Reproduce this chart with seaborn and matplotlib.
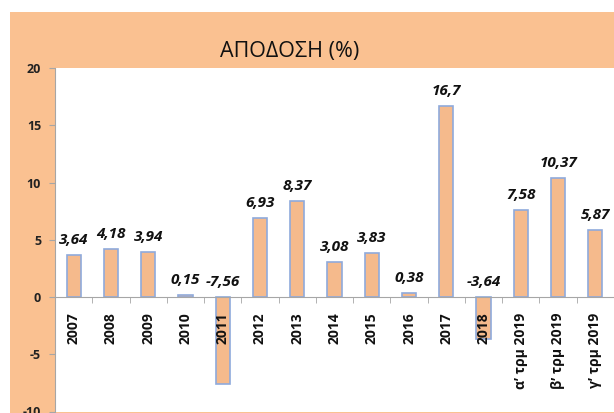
import matplotlib
matplotlib.use('Agg')
import matplotlib.pyplot as plt
import seaborn as sns
import pandas as pd
from matplotlib.patches import Rectangle

# data
periods = ['2007', '2008', '2009', '2010', '2011', '2012', '2013', '2014',
           '2015', '2016', '2017', '2018',
           'α’ τρμ 2019', 'β’ τρμ 2019', 'γ’ τρμ 2019']
returns = [3.64, 4.18, 3.94, 0.15, -7.56, 6.93, 8.37, 3.08,
           3.83, 0.38, 16.7, -3.64, 7.58, 10.37, 5.87]
value_labels = ['3,64', '4,18', '3,94', '0,15', '-7,56', '6,93', '8,37', '3,08',
                '3,83', '0,38', '16,7', '-3,64', '7,58', '10,37', '5,87']
y_ticks = [-10, -5, 0, 5, 10, 15, 20]
title = 'ΑΠΟΔΟΣΗ (%)'

sns.set_style('white')
plt.rcParams['font.family'] = ['Open Sans', 'DejaVu Sans']

df = pd.DataFrame({'period': periods, 'ret': returns})

fig = plt.figure(figsize=(6.14, 4.13), dpi=100)
fig.patch.set_facecolor('white')

# orange chart panel (behind the axes)
panel = Rectangle((10 / 614, 0), 1, (413 - 12) / 413,
                  transform=fig.transFigure, facecolor='#FAC191',
                  edgecolor='none', zorder=-10)
fig.add_artist(panel)
fig.text(290 / 614, (413 - 52) / 413, title, ha='center', va='center',
         fontsize=15.5, color='#111111')

ax = fig.add_axes([55 / 614, 1.5 / 413, (614 - 55) / 614, (411.5 - 68) / 413])
ax.set_zorder(1)
ax.set_facecolor('white')

sns.barplot(data=df, x='period', y='ret', ax=ax, color='#F5BA8C',
            saturation=1, width=0.38, edgecolor='#8FAADC', linewidth=1.2)

ax.set_axisbelow(False)  # tick labels sit on top of the negative bars
ax.set_ylim(-10, 20)
ax.set_xlim(-0.5, len(periods) - 0.5)
ax.set_yticks(y_ticks)
ax.set_yticklabels([str(t) for t in y_ticks], fontsize=9, fontweight='bold',
                   color='#222222')
ax.set_xlabel('')
ax.set_ylabel('')

for s in ['top', 'right']:
    ax.spines[s].set_visible(False)
ax.spines['left'].set_color('#A6A6A6')
ax.spines['bottom'].set_color('#A6A6A6')
ax.spines['bottom'].set_position(('data', 0))

ax.tick_params(axis='y', which='major', direction='out', length=4,
               color='#A6A6A6', left=True, pad=6)
ax.set_xticks(range(len(periods)))
ax.set_xticklabels(periods, rotation=90, fontsize=10, fontweight='bold',
                   color='#111111', va='top')
ax.tick_params(axis='x', which='major', length=0, pad=11)
ax.set_xticks([i + 0.5 for i in range(len(periods) - 1)], minor=True)
ax.tick_params(axis='x', which='minor', direction='out', length=4,
               color='#A6A6A6', bottom=True)

for i, (v, lab) in enumerate(zip(returns, value_labels)):
    ax.text(i, max(v, 0) + 0.7, lab, ha='center', va='bottom', fontsize=11,
            fontweight='bold', fontstyle='italic', color='#111111')

fig.savefig('out.png', dpi=100)
